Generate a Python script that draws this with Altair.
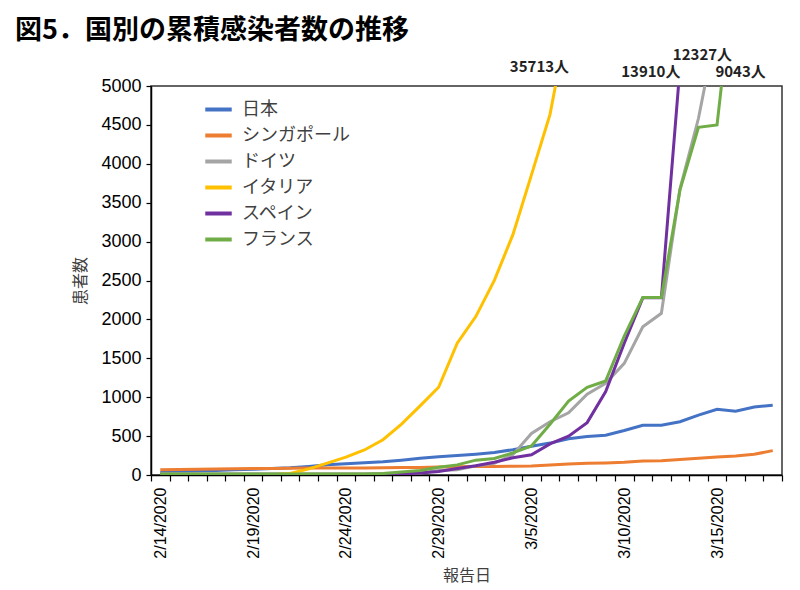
import altair as alt
import pandas as pd

# ---- data ----
dates = [
    "2/14/2020", "2/15/2020", "2/16/2020", "2/17/2020", "2/18/2020", "2/19/2020",
    "2/20/2020", "2/21/2020", "2/22/2020", "2/23/2020", "2/24/2020", "2/25/2020",
    "2/26/2020", "2/27/2020", "2/28/2020", "2/29/2020", "3/1/2020", "3/2/2020",
    "3/3/2020", "3/4/2020", "3/5/2020", "3/6/2020", "3/7/2020", "3/8/2020",
    "3/9/2020", "3/10/2020", "3/11/2020", "3/12/2020", "3/13/2020", "3/14/2020",
    "3/15/2020", "3/16/2020", "3/17/2020", "3/18/2020",
]
label_dates = ["2/14/2020", "2/19/2020", "2/24/2020", "2/29/2020", "3/5/2020", "3/10/2020", "3/15/2020"]
y_ticks = [0, 500, 1000, 1500, 2000, 2500, 3000, 3500, 4000, 4500, 5000]

countries = ["日本", "シンガポール", "ドイツ", "イタリア", "スペイン", "フランス"]
colors = ["#4472C4", "#ED7D31", "#A5A5A5", "#FFC000", "#7030A0", "#70AD47"]

japan = [33, 41, 53, 59, 66, 73, 84, 93, 110, 132, 144, 157, 170, 190, 215, 235, 250,
         268, 290, 325, 370, 410, 465, 495, 510, 572, 640, 640, 685, 770, 845, 820, 875, 895]
singapore = [67, 72, 75, 77, 81, 84, 85, 86, 89, 89, 90, 91, 93, 96, 96, 102, 106,
             108, 110, 112, 117, 130, 140, 150, 155, 163, 180, 183, 200, 214, 232, 245, 266, 313]
germany = [16, 16, 16, 16, 16, 16, 16, 16, 16, 16, 16, 16, 18, 21, 26, 57, 66,
           117, 150, 262, 534, 685, 800, 1040, 1180, 1435, 1906, 2078, 3675, 4585, 5795, 7156, 9257, 12327]
italy = [3, 3, 3, 3, 3, 3, 3, 20, 79, 152, 229, 322, 453, 655, 888, 1128, 1694,
         2036, 2502, 3089, 3858, 4636, 5883, 7375, 9172, 10149, 12462, 15113, 17660, 21157, 24747, 27980, 31506, 35713]
spain = [2, 2, 2, 2, 2, 2, 2, 2, 2, 2, 2, 2, 6, 13, 25, 45, 84,
         120, 165, 222, 259, 400, 500, 673, 1073, 1695, 2277, 2277, 5232, 6391, 7798, 9942, 11748, 13910]
france = [12, 12, 12, 12, 12, 12, 12, 12, 12, 12, 12, 14, 18, 38, 57, 100, 130,
          191, 212, 285, 373, 653, 949, 1126, 1209, 1784, 2281, 2281, 3661, 4469, 4499, 6633, 7652, 9043]

series = [japan, singapore, germany, italy, spain, france]

ann_text = ["35713人", "13910人", "12327人", "9043人"]
ann_date = ["3/5/2020", "3/11/2020", "3/14/2020", "3/16/2020"]
ann_value = [5240, 5180, 5400, 5180]

# ---- build table ----
rows = []
for name, vals in zip(countries, series):
    for d, v in zip(dates, vals):
        rows.append({"date": d, "country": name, "value": v})
df = pd.DataFrame(rows)

JP = "Noto Sans CJK JP"
NUM = "Liberation Sans"

x_scale = alt.Scale(type="band", domain=dates, paddingInner=0, paddingOuter=0)
y_scale = alt.Scale(domain=[0, 5000], nice=False, zero=True)

label_expr = "indexof(" + str(label_dates) + ", datum.value) >= 0 ? datum.value : ''"

x_axis = alt.Axis(title="報告日", labelExpr=label_expr, labelAngle=-90,
                  labelOverlap=False, tickBand="extent", tickSize=6,
                  labelPadding=6, labelFont=NUM, labelFontSize=16,
                  labelColor="#000", titleFont=JP, titleFontSize=16,
                  titleFontWeight="normal", titleColor="#404040",
                  titlePadding=9, domainColor="#000", tickColor="#000",
                  domainWidth=1.5, tickWidth=1.2)
y_axis = alt.Axis(title="患者数", values=y_ticks, grid=False,
                  format="d", labelOverlap=False, tickCount=11,
                  tickSize=5, labelPadding=5, labelFont=NUM, labelFontSize=18,
                  labelColor="#000", titleFont=JP, titleFontSize=16,
                  titleFontWeight="normal", titleColor="#404040",
                  titlePadding=12, domainColor="#000", tickColor="#000",
                  domainWidth=1.5, tickWidth=1.2)

lines = alt.Chart(df).mark_line(clip=True, strokeWidth=3).encode(
    x=alt.X("date:O", scale=x_scale, axis=x_axis),
    y=alt.Y("value:Q", scale=y_scale, axis=y_axis),
    color=alt.Color("country:N", scale=alt.Scale(domain=countries, range=colors),
                    legend=alt.Legend(title=None, orient="none", legendX=52, legendY=8,
                                      symbolType="stroke", symbolStrokeWidth=4,
                                      symbolSize=700, labelFont=JP, labelFontSize=18,
                                      labelColor="#404040", rowPadding=1, labelOffset=8)),
)

ann_dx = [8, 8, 4, 5]
layers = [lines]
for t, d, v, dx in zip(ann_text, ann_date, ann_value, ann_dx):
    adf = pd.DataFrame({"date": [d], "value": [v], "label": [t]})
    layers.append(
        alt.Chart(adf).mark_text(font=JP, fontSize=15, fontWeight="bold", color="#222",
                                 clip=False, dx=dx).encode(
            x=alt.X("date:O", scale=x_scale, axis=x_axis),
            y=alt.Y("value:Q", scale=y_scale, axis=y_axis),
            text="label:N",
        )
    )

chart = alt.layer(*layers).properties(
    width=631, height=389,
    autosize=alt.AutoSizeParams(type="none"),
    padding={"left": 143, "top": 78, "right": 10, "bottom": 113},
    background="white",
    title=alt.TitleParams(text="図5．国別の累積感染者数の推移", anchor="start", dx=-58,
                          font=JP, fontSize=27, fontWeight="bold", color="#000", offset=3),
).configure_view(stroke="#333", strokeWidth=1.5)

chart.save("out.html", embed_options={"renderer": "svg", "actions": False})
